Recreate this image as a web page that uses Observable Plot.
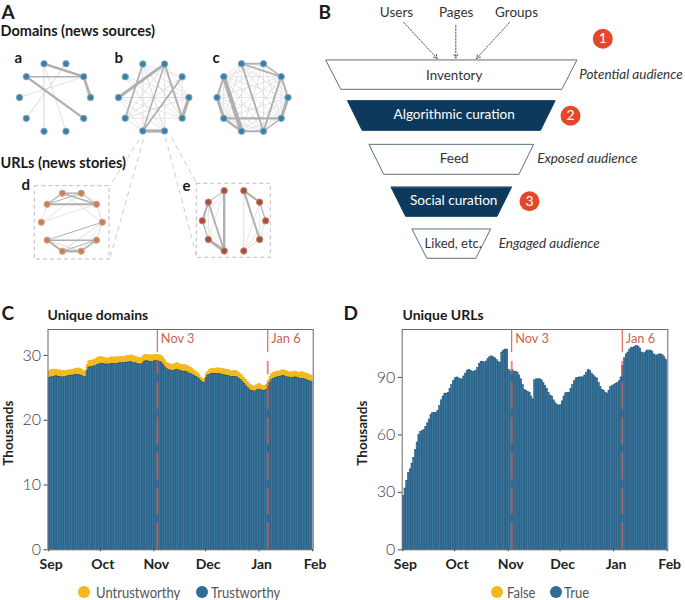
<!DOCTYPE html>
<html><head><meta charset="utf-8">
<script src="https://cdn.jsdelivr.net/npm/d3@7"></script>
<script src="https://cdn.jsdelivr.net/npm/@observablehq/plot@0.6"></script>
<style>
html,body{margin:0;padding:0;background:#fff;overflow:hidden}
body{width:685px;height:600px;position:relative;font-family:Lato,sans-serif}
.p{position:absolute}
.dot{position:absolute;top:586px;width:12px;height:12px;border-radius:50%}
.lab{position:absolute;top:582.5px;font-size:15.5px;line-height:19px;color:#555;transform:scaleX(.84);transform-origin:left center;white-space:nowrap}
</style></head><body>
<div id="top" class="p" style="left:0;top:0"></div>
<div id="c" class="p" style="left:0;top:325px"></div>
<div id="d" class="p" style="left:342px;top:325px"></div>
<span class="dot" style="left:78px;background:#f2b81d"></span><span class="lab" style="left:96px">Untrustworthy</span>
<span class="dot" style="left:196px;background:#2f6d94"></span><span class="lab" style="left:211px">Trustworthy</span>
<span class="dot" style="left:491px;background:#f2b81d"></span><span class="lab" style="left:507px">False</span>
<span class="dot" style="left:550px;background:#2f6d94"></span><span class="lab" style="left:563.5px">True</span>
<script>
const FONT = 'Lato,sans-serif';

// ---------- C: unique domains (thousands), one value per day
const domainsTotal = [
27.6,27.7,27.8,27.8,27.8,27.7,27.7,27.6,27.6,27.6,27.6,27.7,27.7,27.8,27.8,27.9,27.9,28.0,27.9,27.8,27.6,27.5,28.5,29.1,29.2,29.2,29.3,29.4,29.6,29.7,
29.8,29.7,29.6,29.5,29.5,29.6,29.7,29.7,29.7,29.7,29.7,29.8,29.8,29.7,29.8,29.9,29.9,30.0,30.0,29.9,29.8,29.7,29.6,29.6,29.7,30.0,30.1,30.1,30.0,30.0,30.0,
30.1,30.1,30.1,30.0,29.9,29.7,29.3,28.9,28.7,28.7,28.5,28.6,28.7,28.8,28.7,28.6,28.5,28.5,28.5,28.4,28.2,28.1,27.9,27.7,27.5,27.3,27.0,26.6,26.4,26.3,
27.1,27.5,27.8,27.9,27.9,27.9,28.0,28.0,28.0,27.9,27.9,27.8,27.8,27.7,27.6,27.5,27.6,27.6,27.5,27.3,27.1,26.8,26.5,26.2,25.9,25.6,25.4,25.3,25.2,25.4,25.5,
25.6,25.4,25.3,25.3,25.5,26.1,26.7,27.1,27.3,27.4,27.5,27.5,27.6,27.7,27.7,27.6,27.5,27.4,27.4,27.4,27.5,27.5,27.4,27.3,27.4,27.4,27.3,27.2,27.1,27.0,26.9];
const domainsTrust = [
26.5,26.6,26.7,26.7,26.8,26.7,26.7,26.6,26.6,26.7,26.7,26.8,26.8,26.9,26.9,27.0,27.0,27.0,26.9,26.8,26.7,26.7,27.6,28.1,28.2,28.2,28.3,28.4,28.5,28.6,
28.7,28.7,28.6,28.6,28.6,28.6,28.7,28.7,28.7,28.7,28.7,28.8,28.8,28.8,28.8,28.9,28.9,29.0,28.9,28.8,28.8,28.7,28.6,28.6,28.7,29.0,29.1,29.1,29.0,29.0,29.0,
29.1,29.1,29.1,29.0,28.9,28.6,28.2,27.9,27.7,27.7,27.6,27.6,27.7,27.8,27.7,27.6,27.5,27.5,27.5,27.4,27.2,27.1,27.0,26.8,26.7,26.5,26.3,26.0,25.8,25.8,
26.5,26.9,27.0,27.1,27.1,27.1,27.1,27.1,27.1,27.0,27.0,26.9,26.8,26.8,26.7,26.7,26.7,26.7,26.6,26.4,26.2,25.9,25.6,25.3,25.0,24.7,24.5,24.5,24.4,24.5,24.7,
24.7,24.6,24.5,24.5,24.7,25.2,25.8,26.2,26.4,26.5,26.6,26.7,26.7,26.8,26.8,26.7,26.6,26.6,26.5,26.5,26.6,26.6,26.5,26.4,26.4,26.4,26.3,26.2,26.1,26.0,25.9];

// ---------- D: unique URLs (thousands), one value per day
const urlsTrue = [
28,32,36,40,42,45,48,52,56,60,61.5,62,62.5,64,66,68,70.5,71.5,71.5,71.5,72.5,75,78,80,81.5,81.5,82,84,86,88,
89.5,90,89.5,89,89,90.5,92,93.5,94,93.5,93,93,93.5,95,97,98.2,98,97.8,98.3,99.5,100.5,101,100.5,100,99,98,97.5,103,104,104.5,104.5,
94,93,94,93,93,92.5,91,89,86,83.5,83,82.5,82,80,78.5,88.5,89,89,89,88.5,87,85.5,84,82,80.5,80,78,76.5,75.5,
75,75.5,77.5,80,81.7,82,82,84,86,88,89.5,89.8,90,90,90,91,92.5,94,93.5,92,91,90,89.5,87,85,83.5,83,82,81.5,83,85,85.5,86,
86.5,87,88,90,96,100,102,103,104.5,105.5,105.5,106,106.5,106,105,103,102.5,103,104,104,104,103.5,102,101.5,101.5,102,102,101.5,100.5,99,96];

const days = d3.utcDays(new Date(Date.UTC(2020,8,1)), new Date(Date.UTC(2021,1,1)));
const monthTicks = d3.utcMonths(new Date(Date.UTC(2020,8,1)), new Date(Date.UTC(2021,1,2)));
const eventDates = [new Date(Date.UTC(2020,10,3)), new Date(Date.UTC(2021,0,6))];
const eventLabels = ["Nov 3","Jan 6"];

// ---------- A: networks, edges as [node, node, weight]
const edgesA = [[3,1,2.4],[4,1,1.5],[1,0,2.8],[4,9,2.4],[3,7,.95],[2,6,.95],[3,8,.7],[1,5,.7]];
const edgesB = [[2,5,2.8],[9,0,3.2],[7,8,3.2],[2,9,2],[3,6,1.8],[1,7,1.8],[2,7,1.5],[5,0,.8],[3,7,.8],[3,9,.8],[3,8,.8],[3,1,.6],[2,6,.7],[6,1,.7],[6,9,.7],[6,0,.7],[4,9,.6],[4,8,.6],[5,8,.6],[5,7,.6],[4,0,.6],[2,8,.7],[2,0,.6],[3,0,.6],[6,7,.7],[5,9,.6],[1,9,.6]];
const edgesC = [[4,7,4.2],[5,6,3],[4,5,2],[6,7,2.4],[0,9,3.2],[7,8,2],[1,0,2],[3,8,1.9],[1,8,1.9],[6,9,2.4],[2,3,1.9],[8,9,1.4],[1,2,1.5],[3,1,1.6],
[0,2,.6],[0,3,.6],[0,4,.6],[0,5,.6],[0,6,.6],[0,7,.6],[0,8,.6],[1,4,.6],[1,5,.6],[1,6,.6],[1,7,.6],[1,9,.6],[2,4,.6],[2,5,.6],[2,6,.6],[2,7,.6],[2,8,.6],[2,9,.6],[3,4,.6],[3,5,.6],[3,6,.6],[3,7,.6],[3,9,.6],[4,6,.6],[4,8,.6],[4,9,.6],[5,7,.6],[5,8,.6],[5,9,.6],[6,8,.6],[7,9,.6]];
const edgesD = [[4,1,2],[3,2,1.5],[3,1,1.5],[4,2,1],[2,1,1],[6,9,1.5],[7,8,2.5],[6,7,2],[8,9,1.5],[6,0,1],[7,0,.8],[7,9,1],[5,2,.6],[5,1,.6],[4,5,.6],[3,0,.6],[1,0,.8],[0,9,.8],[6,8,.8],[4,3,1.2],[8,0,.6]];
const edgesE = [[3,7,2.4],[2,8,.8],[4,5,2],[4,7,1.9],[5,6,1.2],[6,7,3],[3,4,1],[3,5,.6],[3,6,.6],[4,6,.6],[2,1,2],[2,9,2],[1,0,1.2],[0,9,.8],[1,9,.6],[9,8,.8],[0,8,.6],[1,8,.6],[5,7,.6]];

// ---------- B: funnel
const stageNames = ["Inventory","Algorithmic curation","Feed","Social curation","Liked, etc."];
const stageAudience = ["Potential audience",null,"Exposed audience",null,"Engaged audience"];
const sources = ["Users","Pages","Groups"];
const curationSteps = ["1","2","3"];

// ---------- layout (not data)
const layout = [
 {name:"a",edges:edgesA,cx:54.5,cy:97,r:35.5,fill:"#3e7ea2",halo:"#7fb0c7"},
 {name:"b",edges:edgesB,cx:153.2,cy:97,r:35.2,fill:"#3e7ea2",halo:"#7fb0c7"},
 {name:"c",edges:edgesC,cx:252,cy:97,r:35.5,fill:"#3e7ea2",halo:"#7fb0c7"},
 {name:"d",edges:edgesD,cx:71.3,cy:221.7,r:30.5,fill:"#c6805f",halo:"#dcae96"},
 {name:"e",edges:edgesE,cx:233.5,cy:220.3,r:31.7,fill:"#a4503a",halo:"#c58a78"}
];
const nodeAt = (g,k)=>{const t=k*36*Math.PI/180;return {x:g.cx+g.r*Math.cos(t),y:g.cy-g.r*Math.sin(t)};};
const links = layout.flatMap(g=>g.edges.map(([a,b,w])=>{const p=nodeAt(g,a),q=nodeAt(g,b);return {x1:p.x,y1:p.y,x2:q.x,y2:q.y,w};}));
const nodes = layout.flatMap(g=>d3.range(10).map(k=>({...nodeAt(g,k),fill:g.fill,halo:g.halo})));

const boxes = [{x1:34.3,x2:109,y1:185.7,y2:259},{x1:196.3,x2:270.3,y1:183.3,y2:257.3}];
const connectors = [
 {x1:139,y1:139,x2:109,y2:185.7},{x1:143,y1:139,x2:109,y2:259},
 {x1:165,y1:137,x2:196.3,y2:257},{x1:171,y1:137,x2:196.3,y2:183.3}];

const cx0 = 451.3;
const funnelGeom = [[60.3,89.3,251,221],[101,130.3,207.3,178.4],[144.7,174.3,164.3,135.3],[187.3,216.3,120.3,91.4],[229.3,258.3,78.4,49]];
const funnel = funnelGeom.flatMap(([t,b,wt,wb],i)=>[
 {i,y:t,x1:cx0-wt/2,x2:cx0+wt/2},{i,y:b,x1:cx0-wb/2,x2:cx0+wb/2}]);
const stageText = stageNames.map((s,i)=>({s,i,x:[453.7,453.7,453.7,453.2,452.7][i],y:[75,114.5,158,200.5,243][i],size:[13.4,13.6,13.6,13.6,13][i]}));
const audText = [[0,578.7,74.5],[2,536.7,158],[4,498.3,243]].map(([i,x,y])=>({s:stageAudience[i],x,y}));
const srcText = sources.map((s,i)=>({s,x:[396,455.7,516][i],y:12.5}));
const arrows = [{x1:403.3,y1:22,x2:436.7,y2:58},{x1:455.3,y1:25,x2:455.3,y2:57.5},{x1:509,y1:22,x2:476,y2:58}];
const badges = curationSteps.map((s,i)=>({s,x:[602.3,570,529][i],y:[38.3,115.3,200.7][i]}));

const boldTexts = [
 {s:"A",x:1,y:12,size:19},{s:"B",x:318,y:12,size:19},{s:"C",x:1,y:313,size:19},{s:"D",x:343,y:313,size:19},
 {s:"Domains (news sources)",x:0,y:31,size:14.5},{s:"URLs (news stories)",x:0,y:163,size:14.5},
 {s:"a",x:14,y:58,size:15},{s:"b",x:114,y:58,size:15},{s:"c",x:212,y:58,size:15},{s:"d",x:21,y:185,size:15},{s:"e",x:182,y:186,size:15},
 {s:"Unique domains",x:47,y:315,size:14},{s:"Unique URLs",x:402,y:315,size:14}
];

const topPlot = Plot.plot({
 width:685,height:325,margin:0,
 style:{fontFamily:FONT,background:"transparent"},
 x:{domain:[0,685],range:[0,685],axis:null},
 y:{domain:[0,325],range:[0,325],axis:null},
 marks:[
  Plot.rect(boxes,{x1:"x1",x2:"x2",y1:"y1",y2:"y2",fill:"none",stroke:"#b5b5b5",strokeWidth:.9,strokeDasharray:"4,3"}),
  Plot.link(connectors,{x1:"x1",y1:"y1",x2:"x2",y2:"y2",stroke:"#c0c8cc",strokeWidth:.9,strokeDasharray:"5,4"}),
  Plot.link(links.filter(d=>d.w<1),{x1:"x1",y1:"y1",x2:"x2",y2:"y2",stroke:"#d4d4d4",strokeWidth:"w"}),
  Plot.link(links.filter(d=>d.w>=1),{x1:"x1",y1:"y1",x2:"x2",y2:"y2",stroke:"#b0b0b0",strokeWidth:"w"}),
  Plot.dot(nodes,{x:"x",y:"y",r:3.2,fill:d=>d.fill,stroke:d=>d.halo,strokeWidth:1}),
  Plot.area(funnel,{x1:"x1",x2:"x2",y1:"y",z:"i",fill:d=>d.i%2?"#0d3a5c":"#ffffff",stroke:d=>d.i%2?"#0d3a5c":"#5c6f7e",strokeWidth:1}),
  Plot.text(stageText,{x:"x",y:"y",text:"s",fill:d=>d.i%2?"#ffffff":"#333333",fontSize:"size"}),
  Plot.text(audText,{x:"x",y:"y",text:"s",textAnchor:"start",fontStyle:"italic",fill:"#333333",fontSize:13.5}),
  Plot.text(srcText,{x:"x",y:"y",text:"s",fill:"#333333",fontSize:13.5}),
  Plot.arrow(arrows,{x1:"x1",y1:"y1",x2:"x2",y2:"y2",bend:false,stroke:"#444",strokeWidth:.9,strokeDasharray:"1.6,1.6",headLength:7}),
  Plot.dot(badges,{x:"x",y:"y",r:10,fill:"#e4482c"}),
  Plot.text(badges,{x:"x",y:"y",text:"s",fill:"#fff",fontSize:14}),
  Plot.text(boldTexts,{x:"x",y:"y",text:"s",textAnchor:"start",fontWeight:"bold",fill:"#1a1a1a",fontSize:d=>d.size})
 ]
});
document.getElementById("top").append(topPlot);

function chart({bars,upper,yMax,yTicks,marginLeft,marginRight,width,labelDx}){
 const eventY = yMax*0.895, gapY = yMax*0.855;
 return Plot.plot({
  width,height:260,marginTop:4,marginBottom:35.7,marginLeft,marginRight,insetLeft:.6,insetRight:.6,
  style:{fontFamily:FONT,background:"transparent",overflow:"visible"},
  x:{type:"utc",domain:[days[0],new Date(Date.UTC(2021,1,1))]},
  y:{domain:[0,yMax]},
  marks:[
   upper?Plot.rectY(days.map((d,i)=>({d,lo:bars[i],hi:upper[i]})),{x1:"d",x2:d=>d3.utcDay.offset(d.d,1),y1:"lo",y2:"hi",fill:"#f2b81d",stroke:"#f2b81d",strokeWidth:.6}):null,
   Plot.rectY(days.map((d,i)=>({d,v:bars[i]})),{x1:"d",x2:d=>d3.utcDay.offset(d.d,1),y:"v",fill:"#3a789f",stroke:"#1f5479",strokeWidth:.55}),
   Plot.ruleX(eventDates,{y1:eventY,y2:yMax,stroke:"#d9604c",strokeWidth:1.1}),
   Plot.ruleX(eventDates,{y1:0,y2:gapY,stroke:"#d9604c",strokeOpacity:.68,strokeWidth:2,strokeDasharray:"27,8"}),
   Plot.text(eventDates.map((d,i)=>({d,s:eventLabels[i]})),{x:"d",y:yMax,text:"s",textAnchor:"start",dx:3.5,dy:9,fill:"#c9634f",fontSize:12.8}),
   Plot.frame({stroke:"#6a6a6a",strokeWidth:1}),
   Plot.axisX({ticks:monthTicks,text:null,tickSize:2,label:null,stroke:"#444",anchor:"bottom"}),
   Plot.axisX({ticks:monthTicks,tickFormat:d3.utcFormat("%b"),tickSize:0,tickPadding:9,dx:2.5,fontSize:14,fontWeight:"bold",label:null,color:"#222",anchor:"bottom"}),
   Plot.axisY({ticks:yTicks,tickSize:4,tickPadding:3,fontSize:16,fontWeight:300,label:null,color:"#444",anchor:"left"}),
   Plot.text(["Thousands"],{frameAnchor:"left",textAnchor:"middle",rotate:-90,dx:labelDx,dy:-6.5,fontWeight:"bold",fontSize:13.5,fill:"#222"})
  ]
 });
}
document.getElementById("c").append(chart({bars:domainsTrust,upper:domainsTotal,yMax:34,yTicks:[0,10,20,30],marginLeft:47.5,marginRight:29.3,width:342,labelDx:-39}));
document.getElementById("d").append(chart({bars:urlsTrue,upper:null,yMax:115,yTicks:[0,30,60,90],marginLeft:59.7,marginRight:17.7,width:343,labelDx:-40}));
</script>
</body></html>
